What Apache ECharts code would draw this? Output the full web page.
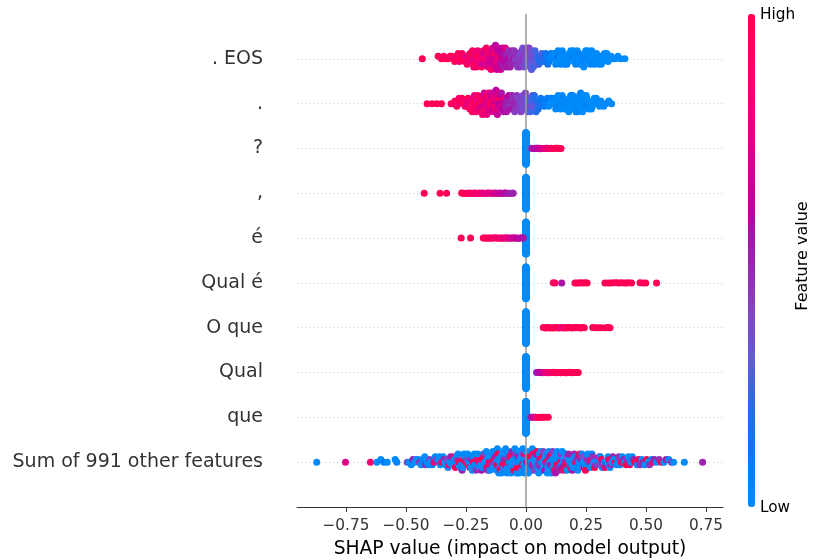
<!DOCTYPE html>
<html>
<head>
<meta charset="utf-8">
<title>SHAP beeswarm</title>
<script src="https://cdn.jsdelivr.net/npm/echarts@6/dist/echarts.min.js"></script>
<style>
  html, body { margin: 0; padding: 0; background: #fff; }
  #chart { width: 813px; height: 560px; }
</style>
</head>
<body>
<div id="chart"></div>
<script>
  // rows from top to bottom
  var features = ['. EOS', '.', '?', ',', 'é', 'Qual é', 'O que', 'Qual', 'que', 'Sum of 991 other features'];
  var xTicks = [-0.75, -0.5, -0.25, 0, 0.25, 0.5, 0.75];

  // [shap value, feature value]  (feature value 0 = low, 1 = high)
  var eosPts = [
    [-0.432,1],[-0.366,.95],[-0.352,1],[-0.343,.9],[-0.334,.95],[-0.325,1],
    [-0.316,.9],[-0.309,1],[-0.302,.85],[-0.297,1],[-0.289,.9],[-0.282,.95],
    [-0.278,.85],[-0.272,1],[-0.266,.9],[-0.261,.95],
    [-0.258,.9],[-0.254,1],[-0.249,.8],[-0.245,.95],[-0.241,.85],
    [-0.238,.9],[-0.234,.8],[-0.229,1],[-0.226,.85],[-0.223,.9],[-0.221,.75],
    [-0.218,.85],[-0.215,.95],[-0.212,.8],[-0.208,.9],[-0.205,.75],[-0.203,1],[-0.201,.85],
    [-0.198,.8],[-0.195,.9],[-0.192,.75],[-0.188,.85],[-0.185,1],[-0.183,.7],[-0.181,.8],
    [-0.178,.85],[-0.176,.7],[-0.173,.9],[-0.170,.75],[-0.167,.8],[-0.165,.95],[-0.163,.7],[-0.161,.8],
    [-0.158,.75],[-0.156,.85],[-0.153,.7],[-0.150,.8],[-0.147,.65],[-0.145,.9],[-0.143,.7],[-0.141,.75],
    [-0.138,.7],[-0.136,.8],[-0.134,.65],[-0.131,.75],[-0.129,.9],[-0.127,.6],[-0.125,.7],[-0.123,.8],[-0.121,.65],
    [-0.119,.6],[-0.117,.75],[-0.115,.65],[-0.113,.7],[-0.111,.85],[-0.109,.6],[-0.107,.65],[-0.105,.7],[-0.103,.55],[-0.101,.6],
    [-0.098,.6],[-0.096,.55],[-0.093,.65],[-0.091,.5],[-0.088,.6],[-0.086,.75],[-0.083,.55],[-0.081,.5],
    [-0.078,.55],[-0.076,.5],[-0.073,.6],[-0.071,.45],[-0.068,.5],[-0.066,.55],[-0.063,.5],[-0.061,.45],
    [-0.058,.5],[-0.055,.45],[-0.052,.55],[-0.049,.45],[-0.046,.5],[-0.043,.4],[-0.041,.45],
    [-0.038,.45],[-0.035,.4],[-0.032,.5],[-0.029,.4],[-0.026,.45],[-0.023,.35],[-0.021,.4],
    [-0.018,.4],[-0.016,.45],[-0.013,.35],[-0.011,.4],[-0.008,.45],[-0.006,.35],[-0.004,.4],[-0.002,.35],
    [0.002,.4],[0.004,.35],[0.006,.4],[0.008,.3],[0.011,.35],[0.013,.4],[0.015,.3],[0.017,.35],[0.019,.3],
    [0.021,.35],[0.023,.3],[0.025,.35],[0.028,.3],[0.031,.25],[0.034,.3],[0.036,.35],[0.038,.25],
    [0.042,.3],[0.045,.25],[0.048,.3],[0.051,.2],[0.054,.25],[0.057,.2],
    [0.062,.2],[0.066,.25],[0.071,.15],[0.076,.2],
    [0.082,.15],[0.086,.1],[0.091,.15],[0.096,.1],
    [0.101,.05],[0.104,.1],[0.108,0],[0.113,.05],[0.117,0],
    [0.121,0],[0.124,.05],[0.127,0],[0.131,.1],[0.134,0],[0.138,.05],
    [0.141,0],[0.144,.05],[0.147,0],[0.151,0],[0.154,.05],[0.158,0],
    [0.161,.05],[0.164,0],[0.167,0],[0.171,.05],[0.174,0],[0.178,0],
    [0.181,0],[0.184,.05],[0.187,0],[0.191,0],[0.194,.05],[0.198,0],
    [0.201,0],[0.204,0],[0.207,.05],[0.211,0],[0.214,0],[0.218,.05],
    [0.221,0],[0.224,.05],[0.227,0],[0.231,0],[0.234,0],[0.238,.05],
    [0.241,0],[0.243,0],[0.246,.05],[0.249,0],[0.252,0],[0.255,.05],[0.258,0],
    [0.261,0],[0.264,0],[0.267,.05],[0.271,0],[0.274,0],[0.278,0],
    [0.281,0],[0.284,.05],[0.287,0],[0.291,0],[0.294,0],[0.298,0],
    [0.302,0],[0.306,0],[0.310,.05],[0.314,0],[0.318,0],
    [0.322,0],[0.327,0],[0.332,0],[0.337,0],
    [0.342,0],[0.348,0],[0.355,0],[0.362,0],[0.372,0],[0.383,0],[0.394,0],[0.412,0]
  ];

  var dotPts = [
    [-0.412,1],[-0.391,.95],[-0.372,1],[-0.352,.95],
    [-0.312,1],[-0.303,.9],[-0.296,.95],[-0.288,1],[-0.282,.85],
    [-0.278,.9],[-0.273,1],[-0.267,.95],[-0.262,.85],
    [-0.258,1],[-0.254,.9],[-0.249,.95],[-0.245,.8],[-0.241,1],
    [-0.238,.85],[-0.234,1],[-0.230,.9],[-0.227,.8],[-0.224,.95],[-0.221,.85],
    [-0.218,1],[-0.215,.8],[-0.212,.9],[-0.208,.85],[-0.205,1],[-0.203,.75],[-0.201,.9],
    [-0.198,.85],[-0.196,1],[-0.193,.75],[-0.190,.9],[-0.187,.8],[-0.185,.95],[-0.183,.7],[-0.181,.85],
    [-0.178,.8],[-0.176,1],[-0.174,.7],[-0.171,.85],[-0.169,.75],[-0.167,.9],[-0.165,.7],[-0.163,.8],[-0.161,1],
    [-0.158,.75],[-0.156,.85],[-0.154,.7],[-0.151,.8],[-0.149,.65],[-0.147,.9],[-0.145,.7],[-0.143,.75],[-0.141,1],
    [-0.138,.7],[-0.136,.8],[-0.133,.65],[-0.130,.75],[-0.127,.9],[-0.125,.6],[-0.123,.7],[-0.121,.8],
    [-0.119,.65],[-0.117,.7],[-0.115,.6],[-0.113,.75],[-0.111,1],[-0.109,.6],[-0.107,.65],[-0.104,.7],[-0.102,.55],
    [-0.098,.6],[-0.096,.65],[-0.093,.55],[-0.091,.8],[-0.088,.55],[-0.086,.6],[-0.083,.5],[-0.081,.55],
    [-0.078,.55],[-0.075,.5],[-0.072,.6],[-0.069,.5],[-0.066,.45],[-0.064,.55],[-0.061,.5],
    [-0.058,.5],[-0.054,.45],[-0.050,.5],[-0.047,.4],[-0.044,.45],[-0.041,.5],
    [-0.038,.45],[-0.034,.4],[-0.031,.45],[-0.027,.4],[-0.024,.35],[-0.021,.4],
    [-0.018,.4],[-0.016,.35],[-0.013,.4],[-0.011,.35],[-0.008,.4],[-0.006,.3],[-0.004,.35],[-0.002,.4],
    [0.002,.35],[0.005,.3],[0.007,.35],[0.009,.3],[0.012,.25],[0.014,.3],[0.016,.35],[0.018,.25],
    [0.021,.3],[0.024,.25],[0.027,.3],[0.030,.2],[0.033,.25],[0.035,.2],[0.038,.3],
    [0.042,.2],[0.045,.25],[0.048,.15],[0.051,.2],[0.054,.15],[0.057,.2],
    [0.062,.15],[0.066,.1],[0.071,.15],[0.076,.1],
    [0.083,.05],[0.089,.1],[0.095,0],
    [0.101,0],[0.104,.05],[0.108,0],[0.113,0],[0.117,.05],
    [0.121,0],[0.124,0],[0.127,.05],[0.131,0],[0.134,0],[0.138,0],
    [0.141,.05],[0.144,0],[0.147,0],[0.151,0],[0.154,.05],[0.158,0],
    [0.161,0],[0.164,0],[0.168,.05],[0.171,0],[0.174,0],[0.178,0],
    [0.181,0],[0.183,.05],[0.186,0],[0.189,0],[0.192,0],[0.195,.05],[0.198,0],
    [0.201,0],[0.203,0],[0.205,.05],[0.208,0],[0.211,0],[0.213,0],[0.216,.05],[0.218,0],
    [0.221,0],[0.223,0],[0.226,0],[0.228,.05],[0.231,0],[0.234,0],[0.236,0],[0.238,0],
    [0.241,0],[0.244,0],[0.247,.05],[0.251,0],[0.254,0],[0.258,0],
    [0.262,0],[0.265,0],[0.269,0],[0.273,0],[0.277,0],
    [0.281,0],[0.285,0],[0.289,0],[0.293,0],[0.297,0],
    [0.302,0],[0.307,0],[0.312,0],[0.317,0],
    [0.324,0],[0.333,0],[0.345,0],[0.357,0]
  ];

  var qPts = [
    [0.024,.5],[0.028,.55],[0.032,.5],[0.036,.6],[0.040,.55],[0.045,.6],[0.050,.65],[0.055,.6],
    [0.060,.7],[0.064,.65],[0.068,.75],[0.073,.7],[0.078,.8],[0.083,.75],[0.088,.85],[0.093,.8],
    [0.098,.9],[0.104,.85],[0.110,.95],[0.116,.9],[0.122,1],[0.128,.95],[0.134,1],[0.140,.95],[0.146,1]
  ];

  var commaPts = [
    [-0.424,1],[-0.358,1],[-0.331,.95],[-0.268,1],[-0.262,.95],[-0.256,1],[-0.249,.9],[-0.242,.95],
    [-0.236,.9],[-0.229,1],[-0.222,.85],[-0.216,.9],[-0.209,.95],[-0.203,.85],[-0.196,.8],[-0.190,.9],
    [-0.183,.85],[-0.176,.75],[-0.170,.8],[-0.163,.85],[-0.156,.7],[-0.150,.75],[-0.143,.8],[-0.136,.7],
    [-0.130,.65],[-0.123,.75],[-0.116,.65],[-0.110,.6],[-0.103,.7],[-0.096,.6],[-0.090,.55],[-0.083,.6],
    [-0.076,.5],[-0.070,.55],[-0.063,.5],[-0.057,.45],[-0.053,.5]
  ];

  var ePts = [
    [-0.270,1],[-0.231,1],[-0.178,.95],[-0.172,1],[-0.166,.9],[-0.160,1],[-0.154,.95],[-0.148,.9],
    [-0.142,1],[-0.136,.85],[-0.130,.95],[-0.124,.9],[-0.118,.85],[-0.112,.95],[-0.106,.8],[-0.100,.9],
    [-0.094,.85],[-0.088,.75],[-0.082,.8],[-0.076,.85],[-0.070,.7],[-0.064,.75],[-0.058,.7],[-0.052,.65],
    [-0.046,.7],[-0.040,.6],[-0.034,.65],[-0.028,.6],[-0.022,.55],[-0.016,.6],[-0.011,.55]
  ];

  var qualePts = [
    [0.114,1],[0.121,.95],[0.149,.55],[0.204,1],[0.212,.95],[0.220,1],[0.229,.95],[0.238,1],[0.247,.95],
    [0.255,1],[0.329,1],[0.342,.95],[0.354,1],[0.365,1],[0.378,.95],[0.388,1],[0.397,.95],[0.409,1],
    [0.418,1],[0.428,.95],[0.440,1],[0.475,1],[0.486,.95],[0.499,1],[0.544,1]
  ];

  var oquePts = [
    [0.072,.9],[0.078,1],[0.084,.95],[0.090,1],[0.097,.9],[0.103,1],[0.110,.95],[0.117,1],[0.124,.9],
    [0.131,1],[0.138,.95],[0.145,.85],[0.152,.8],[0.159,1],[0.166,.9],[0.173,1],[0.180,.95],[0.187,1],
    [0.194,.9],[0.201,1],[0.208,.95],[0.215,1],[0.222,1],[0.229,.95],[0.236,1],[0.243,1],
    [0.278,1],[0.290,.95],[0.302,1],[0.314,1],[0.332,.95],[0.342,1],[0.350,1]
  ];

  var qualPts = [
    [0.044,.55],[0.049,.5],[0.054,.6],[0.059,.55],[0.064,.65],[0.069,.6],[0.075,.7],[0.080,.8],
    [0.086,.75],[0.092,.85],[0.098,.8],[0.104,.9],[0.110,.85],[0.116,.95],[0.122,.9],[0.128,1],
    [0.134,.95],[0.140,1],[0.146,.9],[0.152,1],[0.158,.95],[0.164,1],[0.170,.95],[0.176,1],
    [0.182,1],[0.188,.95],[0.194,1],[0.200,1],[0.206,.95],[0.212,1],[0.218,1]
  ];

  var quePts = [
    [0.020,.5],[0.026,.55],[0.032,.65],[0.040,.8],[0.048,.9],[0.056,1],[0.064,.95],[0.072,1],[0.080,1],[0.093,1]
  ];

  var sumPts = [
    [-0.872,0],[-0.752,.75],[-0.648,.9],[-0.621,0],[-0.605,0],[-0.592,.1],[-0.578,0],[-0.545,0],[-0.538,.05],
    [-0.495,.4],[-0.487,0],[-0.478,0],[-0.471,.5],[-0.463,0],[-0.457,0],[-0.449,0],[-0.443,.45],
    [-0.437,0],[-0.430,.05],[-0.422,0],[-0.418,.5],[-0.412,0],[-0.406,0],[-0.401,.4],
    [-0.397,0],[-0.390,.05],[-0.383,.85],[-0.378,0],[-0.372,.45],[-0.366,0],[-0.361,0],
    [-0.357,0],[-0.351,.9],[-0.345,0],[-0.341,.5],[-0.338,0],[-0.334,0],[-0.329,.4],[-0.325,0],[-0.321,1],
    [-0.318,0],[-0.314,.5],[-0.309,0],[-0.305,0],[-0.301,.85],
    [-0.298,0],[-0.294,1],[-0.290,0],[-0.286,.45],[-0.283,0],[-0.281,0],
    [-0.278,.95],[-0.274,0],[-0.270,0],[-0.266,.5],[-0.263,0],[-0.261,1],
    [-0.258,0],[-0.255,0],[-0.251,.9],[-0.248,0],[-0.245,.4],[-0.243,0],[-0.241,1],
    [-0.238,0],[-0.234,1],[-0.230,0],[-0.227,.5],[-0.224,0],[-0.221,0],
    [-0.218,1],[-0.215,0],[-0.212,0],[-0.208,.45],[-0.205,0],[-0.203,.95],[-0.201,0],
    [-0.198,0],[-0.195,.9],[-0.192,0],[-0.188,0],[-0.185,.55],[-0.183,0],[-0.181,1],
    [-0.178,0],[-0.176,1],[-0.173,0],[-0.170,.4],[-0.167,0],[-0.165,0],[-0.163,.95],[-0.161,0],
    [-0.158,.5],[-0.156,0],[-0.153,1],[-0.150,0],[-0.147,0],[-0.145,.9],[-0.143,0],[-0.141,.45],
    [-0.138,0],[-0.136,0],[-0.133,1],[-0.130,0],[-0.127,.5],[-0.125,0],[-0.123,0],[-0.121,.95],
    [-0.119,0],[-0.117,1],[-0.115,0],[-0.113,0],[-0.111,.4],[-0.109,0],[-0.107,.9],[-0.104,0],[-0.102,0],
    [-0.099,0],[-0.097,1],[-0.095,0],[-0.093,0],[-0.091,.5],[-0.089,0],[-0.087,.95],[-0.085,0],[-0.083,0],[-0.081,.45],
    [-0.079,0],[-0.077,0],[-0.075,1],[-0.073,0],[-0.071,.4],[-0.069,0],[-0.067,0],[-0.065,.9],[-0.063,0],[-0.061,1],
    [-0.059,0],[-0.057,.5],[-0.055,0],[-0.052,0],[-0.050,1],[-0.048,0],[-0.046,0],[-0.044,.45],[-0.042,0],
    [-0.039,0],[-0.037,1],[-0.035,0],[-0.033,0],[-0.031,.55],[-0.029,0],[-0.027,.95],[-0.025,0],[-0.023,0],[-0.021,0],
    [-0.019,0],[-0.017,0],[-0.015,1],[-0.013,0],[-0.011,.4],[-0.009,0],[-0.007,0],[-0.005,.9],[-0.003,0],[-0.001,0],
    [0.001,0],[0.003,.5],[0.005,0],[0.008,1],[0.010,0],[0.012,0],[0.014,.45],[0.016,0],[0.018,.95],
    [0.021,0],[0.023,0],[0.025,.5],[0.027,0],[0.029,1],[0.032,0],[0.034,.4],[0.036,0],[0.038,0],
    [0.041,.55],[0.043,0],[0.046,1],[0.048,0],[0.051,.45],[0.053,0],[0.056,0],[0.058,.9],
    [0.061,0],[0.063,.5],[0.065,0],[0.067,0],[0.069,1],[0.072,.4],[0.074,0],[0.076,0],[0.078,.55],
    [0.081,0],[0.083,1],[0.085,0],[0.087,.45],[0.089,0],[0.091,0],[0.093,.95],[0.095,0],[0.097,.5],[0.099,0],
    [0.101,0],[0.103,.5],[0.105,0],[0.108,1],[0.110,0],[0.112,.4],[0.114,0],[0.116,0],[0.118,.9],
    [0.121,0],[0.123,.55],[0.126,0],[0.128,1],[0.131,0],[0.133,.45],[0.136,0],[0.138,.5],
    [0.141,0],[0.143,1],[0.146,.45],[0.148,0],[0.151,0],[0.153,.55],[0.156,0],[0.158,.95],
    [0.161,0],[0.163,.5],[0.166,0],[0.168,1],[0.171,0],[0.173,.4],[0.176,0],[0.178,.5],
    [0.181,.45],[0.184,0],[0.187,1],[0.190,0],[0.193,.55],[0.196,0],[0.198,0],
    [0.201,.5],[0.204,0],[0.207,.95],[0.210,0],[0.213,.45],[0.216,0],[0.218,.5],
    [0.221,0],[0.224,1],[0.227,0],[0.230,.5],[0.233,0],[0.236,.4],[0.238,0],
    [0.241,.55],[0.245,0],[0.248,1],[0.252,0],[0.255,.45],[0.258,0],
    [0.261,0],[0.265,.5],[0.268,0],[0.272,.9],[0.275,0],[0.278,.45],
    [0.282,0],[0.286,1],[0.290,.5],[0.294,0],[0.298,.4],
    [0.302,0],[0.306,.55],[0.310,0],[0.314,.95],[0.318,0],
    [0.322,.45],[0.326,0],[0.330,1],[0.334,.5],[0.338,0],
    [0.342,0],[0.346,.9],[0.350,0],[0.354,.45],[0.358,0],
    [0.362,.5],[0.367,0],[0.372,1],[0.377,0],
    [0.382,0],[0.387,.45],[0.392,0],[0.397,.95],
    [0.402,0],[0.407,.5],[0.412,0],[0.417,1],
    [0.422,.45],[0.427,0],[0.432,.9],[0.437,0],
    [0.443,0],[0.449,.5],[0.455,1],[0.463,0],[0.469,.95],[0.475,.45],
    [0.483,0],[0.489,.5],[0.495,0],[0.503,1],[0.509,0],[0.515,.45],
    [0.523,0],[0.529,.9],[0.535,.5],[0.544,0],[0.555,.45],[0.564,1],[0.575,0],
    [0.584,.5],[0.595,0],[0.606,.45],[0.615,0],[0.660,0],[0.736,.5]
  ];

  // samples whose shap value is exactly 0 (token not present)
  var zeroCounts = [0, 0, 200, 190, 195, 200, 190, 195, 215, 0];

  // shap red_blue colormap, low -> high
  var colorStops = ['#008bfb', '#007cf5', '#256cea', '#6359da', '#8443c6', '#9b23ad',
                    '#bb00a0', '#d5008f', '#e9007c', '#f90067', '#ff0052'];

  var rowPts = [eosPts, dotPts, qPts, commaPts, ePts, qualePts, oquePts, qualPts, quePts, sumPts];
  var rowHeight = 0.4;
  var binW = 0.02;

  // beeswarm layout like shap: points in the same x bin are stacked above / below the row line
  function swarm(pts, pos) {
    var idx = pts.map(function (p, i) { return i; });
    idx.sort(function (a, b) {
      var qa = Math.round(pts[a][0] / binW), qb = Math.round(pts[b][0] / binW);
      return qa - qb || ((a * 61) % 97) - ((b * 61) % 97);
    });
    var ys = pts.map(function () { return 0; });
    var layer = 0, last = null;
    idx.forEach(function (i) {
      var q = Math.round(pts[i][0] / binW);
      if (q !== last) layer = 0;
      ys[i] = Math.ceil(layer / 2) * (layer % 2 ? 1 : -1);
      layer++;
      last = q;
    });
    var scale = 0.9 * rowHeight / Math.max.apply(null, ys.map(function (v) { return v + 1; }));
    return pts.map(function (p, i) { return [p[0], pos + ys[i] * scale, p[1]]; });
  }

  var dense = [], sparse = [];
  rowPts.forEach(function (pts, i) {
    var all = [];
    for (var k = 0; k < zeroCounts[i]; k++) all.push([0, 0]);
    all = all.concat(pts);
    var placed = swarm(all, features.length - 1 - i);
    if (zeroCounts[i] > 0) sparse = sparse.concat(placed);
    else dense = dense.concat(placed);
  });

  var font = 'DejaVu Sans';
  var chart = echarts.init(document.getElementById('chart'));
  chart.setOption({
    animation: false,
    textStyle: { fontFamily: font },
    grid: { left: 297, right: 90, top: 14, bottom: 53, outerBoundsMode: 'none', containLabel: false },
    xAxis: {
      type: 'value',
      min: -0.954,
      max: 0.821,
      name: 'SHAP value (impact on model output)',
      nameLocation: 'middle',
      nameGap: 33,
      nameTextStyle: { color: '#000', fontSize: 18.7, fontFamily: font },
      axisLine: { onZero: false, lineStyle: { color: '#333', width: 1 } },
      axisTick: { customValues: xTicks, length: 5, lineStyle: { color: '#333' } },
      axisLabel: {
        customValues: xTicks,
        color: '#333',
        fontSize: 15.3,
        margin: 12,
        fontFamily: font,
        formatter: function (v) { return (v < 0 ? '\u2212' : '') + Math.abs(v).toFixed(2); }
      },
      splitLine: { show: false }
    },
    yAxis: {
      type: 'value',
      min: -1,
      max: 10,
      interval: 1,
      axisLine: { show: false },
      axisTick: { show: false },
      splitLine: { show: false },
      axisLabel: {
        color: '#333',
        fontSize: 19,
        margin: 34,
        padding: [3, 0, 0, 0],
        fontFamily: font,
        formatter: function (v) { return features[features.length - 1 - v] || ''; }
      }
    },
    visualMap: {
      type: 'continuous',
      min: 0,
      max: 1,
      dimension: 2,
      seriesIndex: [0, 3],
      calculable: false,
      hoverLink: false,
      left: 748,
      top: 14,
      padding: 0,
      itemWidth: 7,
      itemHeight: 493,
      inRange: { color: colorStops }
    },
    graphic: [
      { type: 'text', x: 760, y: 15, silent: true,
        style: { text: 'High', fill: '#000', font: '15.3px "DejaVu Sans"', textVerticalAlign: 'middle' } },
      { type: 'text', x: 760, y: 508, silent: true,
        style: { text: 'Low', fill: '#000', font: '15.3px "DejaVu Sans"', textVerticalAlign: 'middle' } },
      { type: 'text', x: 803, y: 256, rotation: Math.PI / 2, silent: true,
        style: { text: 'Feature value', fill: '#000', font: '16px "DejaVu Sans"', textAlign: 'center', textVerticalAlign: 'middle' } }
    ],
    series: [
      {
        type: 'scatter',
        data: dense,
        symbolSize: 7,
        itemStyle: { opacity: 1 },
        z: 2,
        silent: true
      },
      {
        type: 'line',
        data: [],
        silent: true,
        markLine: {
          silent: true,
          z: 1,
          symbol: ['none', 'none'],
          label: { show: false },
          lineStyle: { color: '#cccccc', width: 1, type: [1, 3] },
          data: features.map(function (f, i) { return { yAxis: i }; })
        }
      },
      {
        type: 'line',
        data: [],
        silent: true,
        markLine: {
          silent: true,
          z: 5,
          symbol: ['none', 'none'],
          label: { show: false },
          lineStyle: { color: '#999999', width: 1.5, type: 'solid' },
          data: [{ xAxis: 0 }]
        }
      },
      {
        type: 'scatter',
        data: sparse,
        symbolSize: 7,
        itemStyle: { opacity: 1 },
        z: 6,
        silent: true
      }
    ]
  });
</script>
</body>
</html>
